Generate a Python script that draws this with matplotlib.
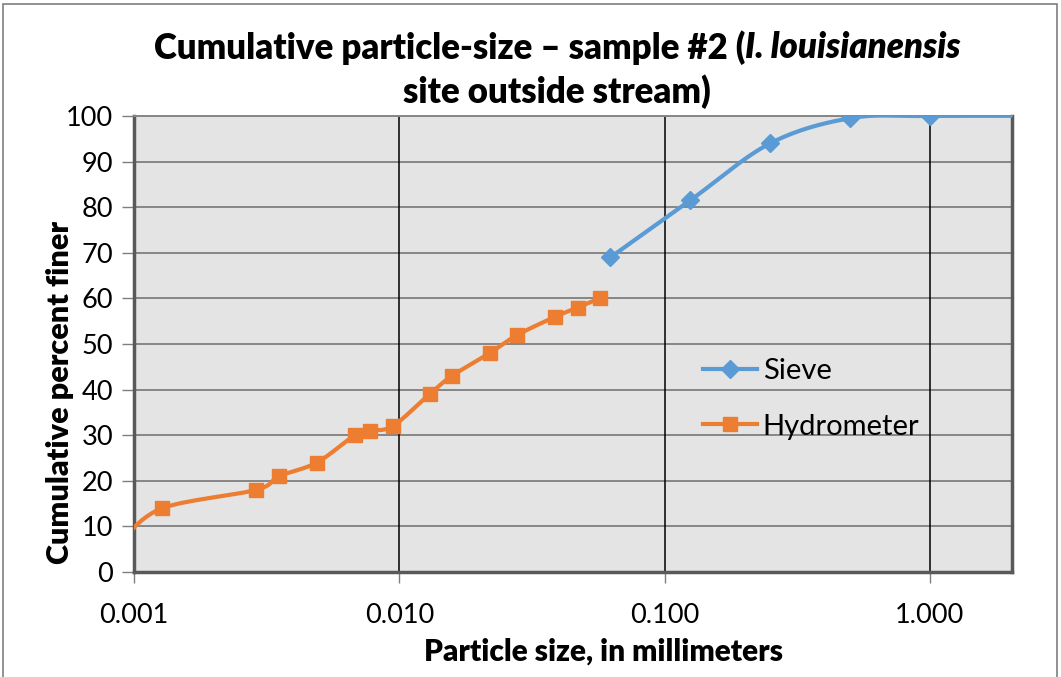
import numpy as np
import matplotlib.pyplot as plt
from matplotlib.patches import Rectangle
from matplotlib.lines import Line2D

plt.rcParams['font.family'] = ['Lato', 'DejaVu Sans']

# sieve analysis
sieve_mm = [0.0625, 0.125, 0.25, 0.5, 1.0, 4.75]
sieve_pct = [69, 81.5, 94, 99.5, 100, 100]

# hydrometer analysis (first reading sits just left of the axis limit)
hydro_mm = [0.0009, 0.00128, 0.00288, 0.00352, 0.00489, 0.0068, 0.00774,
            0.00945, 0.0130, 0.0158, 0.0219, 0.0279, 0.0388, 0.0470, 0.0569]
hydro_pct = [7, 14, 18, 21, 24, 30, 31, 32, 39, 43, 48, 52, 56, 58, 60]

x_ticks = [0.001, 0.01, 0.1, 1.0]
x_tick_labels = ['0.001', '0.010', '0.100', '1.000']

BLUE = '#5B9BD5'
ORANGE = '#ED7D31'
BOLD = 'heavy'


def smooth(xs, ys, n=40):
    # catmull-rom through the points, done in screen-like space (log x)
    u = np.log10(xs) * 265.5
    v = np.asarray(ys, float) * 4.56
    pts = np.column_stack([u, v])
    p = np.vstack([pts[0], pts, pts[-1]])
    out = []
    for i in range(1, len(p) - 2):
        p0, p1, p2, p3 = p[i - 1], p[i], p[i + 1], p[i + 2]
        t = np.linspace(0, 1, n)[:, None]
        c = 0.5 * ((2 * p1) + (-p0 + p2) * t + (2 * p0 - 5 * p1 + 4 * p2 - p3) * t**2
                   + (-p0 + 3 * p1 - 3 * p2 + p3) * t**3)
        out.append(c)
    c = np.vstack(out)
    return 10 ** (c[:, 0] / 265.5), c[:, 1] / 4.56


fig = plt.figure(figsize=(10.61, 6.77), dpi=100)
ax = fig.add_axes([134 / 1061, 1 - 572 / 677, 878 / 1061, 456 / 677])
ax.set_facecolor('#E4E4E4')

sx, sy = smooth(sieve_mm, sieve_pct)
hx, hy = smooth(hydro_mm, hydro_pct)
ax.plot(sx, sy, color=BLUE, lw=3, zorder=3)
ax.plot(hx, hy, color=ORANGE, lw=3, zorder=3)
ax.plot(sieve_mm, sieve_pct, ls='none', marker='D', ms=9, color=BLUE, zorder=4)
ax.plot(hydro_mm, hydro_pct, ls='none', marker='s', ms=10, color=ORANGE, zorder=4)

ax.set_xscale('log')
ax.set_xlim(0.001, 2.04)
ax.set_ylim(0, 100)
ax.set_yticks(range(0, 101, 10))
ax.set_xticks(x_ticks)
ax.set_xticklabels(x_tick_labels)
ax.xaxis.set_minor_locator(plt.NullLocator())
ax.tick_params(axis='both', labelsize=19.5, colors='#7F7F7F', labelcolor='black',
               length=9, width=1)
ax.tick_params(axis='x', pad=14, length=8)
ax.tick_params(axis='y', pad=6)

for y in range(10, 101, 10):
    ax.axhline(y, color='#868686', lw=1.4, zorder=1)
for x in x_ticks[1:]:
    ax.axvline(x, color='black', lw=1.1, zorder=1)

for s in ['left', 'bottom', 'right']:
    ax.spines[s].set_color('#595959')
    ax.spines[s].set_linewidth(2.5)
ax.spines['top'].set_color('#868686')
ax.spines['top'].set_linewidth(1.4)

# title line 1 with an italic species name, built from two pieces
title1 = ['Cumulative particle-size \u2013 sample #2 (', 'I. louisianensis']
r = fig.canvas.get_renderer()
a = fig.text(0, 1 - 48 / 677, title1[0], fontsize=25, fontweight=BOLD, va='center')
b = fig.text(0, 1 - 48 / 677, title1[1], fontsize=25, fontweight=BOLD,
             style='italic', va='center')
wa = a.get_window_extent(r).width
wb = b.get_window_extent(r).width
x0 = (557 - (wa + wb) / 2) / 1061
a.set_x(x0)
b.set_x(x0 + wa / 1061)
fig.text(557 / 1061, 1 - 92 / 677, 'site outside stream)', fontsize=25,
         fontweight=BOLD, ha='center', va='center')

fig.text(603 / 1061, 1 - 652 / 677, 'Particle size, in millimeters', fontsize=21.5,
         fontweight=BOLD, ha='center', va='center')
fig.text(60 / 1061, 1 - 393 / 677, 'Cumulative percent finer', fontsize=22,
         fontweight=BOLD, ha='center', va='center', rotation=90)

handles = [Line2D([], [], color=BLUE, lw=3, marker='D', ms=9),
           Line2D([], [], color=ORANGE, lw=3, marker='s', ms=10)]
ax.legend(handles, ['Sieve', 'Hydrometer'], loc='center left',
          bbox_to_anchor=((703 - 134) / 878, (572 - 399) / 456), frameon=False,
          fontsize=21, handlelength=1.85, handletextpad=0.2, labelspacing=1.0,
          borderaxespad=0, borderpad=0)

fig.add_artist(Rectangle((3 / 1061, -0.01), 1 - 7 / 1061, 1 - 4 / 677 + 0.01,
                         transform=fig.transFigure, fill=False,
                         edgecolor='#7F7F7F', lw=1.2))

fig.savefig('out.png', dpi=100)
